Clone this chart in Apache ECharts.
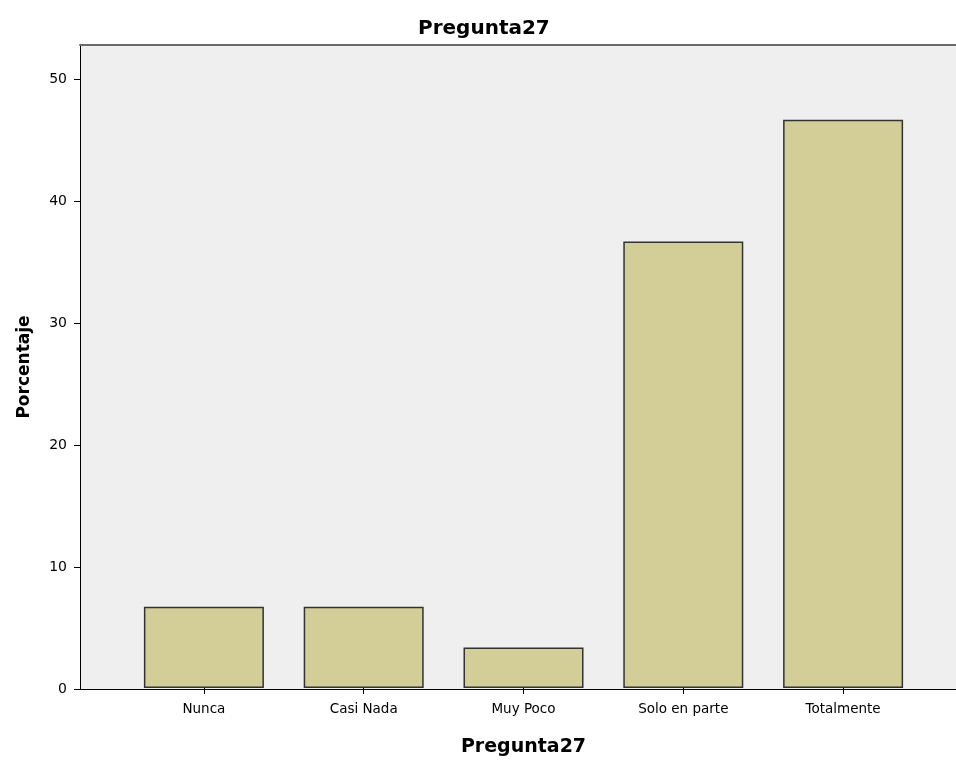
<!DOCTYPE html>
<html>
<head>
<meta charset="utf-8">
<script src="https://cdn.jsdelivr.net/npm/echarts@6/dist/echarts.min.js"></script>
<style>
  html, body { margin: 0; padding: 0; background: #fff; }
  #chart { width: 956px; height: 762px; }
</style>
</head>
<body>
<div id="chart"></div>
<script>
  var categories = ['Nunca', 'Casi Nada', 'Muy Poco', 'Solo en parte', 'Totalmente']
  var porcentaje = [6.67, 6.67, 3.33, 36.67, 46.67]
  var yTicks = [0, 10, 20, 30, 40, 50]

  var font = 'DejaVu Sans, Liberation Sans, sans-serif'
  var yMax = 52.8

  var chart = echarts.init(document.getElementById('chart'))
  var option = {
    animation: false,
    textStyle: { fontFamily: font },
    title: {
      text: 'Pregunta27',
      left: 413,
      top: 14,
      textStyle: { fontSize: 20, fontWeight: 'bold', color: '#000', fontFamily: font }
    },
    grid: [
      // whole plot frame, grey background
      { left: 80, right: 0, top: 45, bottom: 73, show: true, backgroundColor: '#efefef', borderWidth: 0 },
      // band where the bars sit
      { left: 124, right: 33, top: 45, bottom: 73 }
    ],
    xAxis: [{
      gridIndex: 0,
      type: 'value',
      min: 0,
      max: 1,
      axisLine: { show: true, lineStyle: { color: '#000', width: 1 } },
      axisTick: { show: false },
      axisLabel: { show: false },
      splitLine: { show: false }
    }, {
      gridIndex: 0,
      type: 'value',
      position: 'top',
      min: 0,
      max: 1,
      axisLine: { show: true, lineStyle: { color: '#6a6a6a', width: 2 } },
      axisTick: { show: false },
      axisLabel: { show: false },
      splitLine: { show: false }
    }, {
      gridIndex: 1,
      type: 'category',
      data: categories,
      name: 'Pregunta27',
      nameLocation: 'middle',
      nameGap: 50,
      nameTextStyle: { fontSize: 19, fontWeight: 'bold', color: '#000', fontFamily: font },
      axisLine: { show: false },
      axisTick: { show: true, alignWithLabel: true, length: 6, lineStyle: { color: '#000' } },
      axisLabel: { fontSize: 13.5, color: '#000', margin: 14, fontFamily: font }
    }],
    yAxis: [{
      gridIndex: 0,
      type: 'value',
      min: 0,
      max: yMax,
      interval: 10,
      name: 'Porcentaje',
      nameLocation: 'middle',
      nameGap: 47,
      nameTextStyle: { fontSize: 17, fontWeight: 'bold', color: '#000', fontFamily: font },
      axisLine: { show: true, lineStyle: { color: '#000', width: 1 } },
      axisTick: { show: true, length: 6, customValues: yTicks, lineStyle: { color: '#000' } },
      axisLabel: {
        fontSize: 14,
        color: '#000',
        margin: 13,
        fontFamily: font,
        customValues: yTicks
      },
      splitLine: { show: false }
    }, {
      gridIndex: 1,
      type: 'value',
      min: 0,
      max: yMax,
      show: false
    }],
    series: [{
      name: 'Porcentaje',
      type: 'bar',
      xAxisIndex: 2,
      yAxisIndex: 1,
      barWidth: 120,
      data: porcentaje,
      itemStyle: { color: '#d3ce98', borderColor: '#333330', borderWidth: 1.5 }
    }]
  }
  chart.setOption(option)
  window.onresize = function () {
    chart.resize()
  }
</script>
</body>
</html>
